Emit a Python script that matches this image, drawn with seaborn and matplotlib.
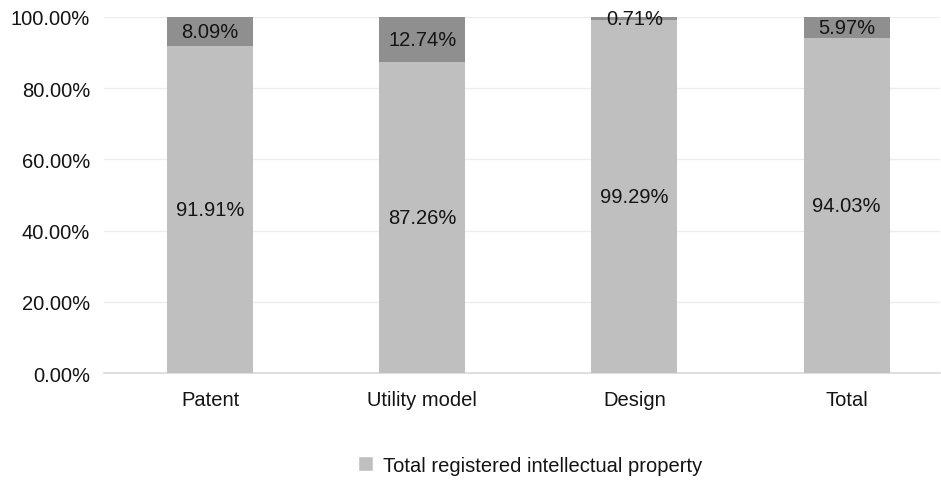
import pandas as pd
import matplotlib.pyplot as plt
import seaborn as sns
from matplotlib.patches import Patch
from matplotlib.ticker import FuncFormatter

categories = ['Patent', 'Utility model', 'Design', 'Total']
registered = [91.91, 87.26, 99.29, 94.03]
unregistered = [8.09, 12.74, 0.71, 5.97]

LIGHT = '#bfbfbf'
DARK = '#8f8f8f'
GRID = '#ededed'
TEXT = '#141414'
FS = 14.5

sns.set_style('white')
plt.rcParams['font.family'] = ['Liberation Sans', 'DejaVu Sans']

df = pd.DataFrame({'category': categories, 'registered': registered,
                   'unregistered': unregistered})
df['stack'] = df['registered'] + df['unregistered']

fig = plt.figure(figsize=(9.41, 4.81), dpi=100)
ax = fig.add_axes([104 / 941, 1 - 374 / 481, (940 - 104) / 941, (374 - 18) / 481])

# darker top part drawn as the full stack, light registered part over it
sns.barplot(data=df, x='category', y='stack', color=DARK, saturation=1,
            width=0.405, linewidth=0, ax=ax, zorder=2)
sns.barplot(data=df, x='category', y='registered', color=LIGHT, saturation=1,
            width=0.405, linewidth=0, ax=ax, zorder=3)

for i, (r, u) in enumerate(zip(registered, unregistered)):
    ax.text(i, r / 2, f'{r:.2f}%', ha='center', va='center', fontsize=FS,
            color=TEXT, zorder=5)
    ax.text(i, r + u / 2, f'{u:.2f}%', ha='center', va='center', fontsize=FS,
            color=TEXT, zorder=5)

ax.set_ylim(0, 100)
ax.set_xlim(-0.5, 3.44)
ax.set_yticks([0, 20, 40, 60, 80, 100])
ax.yaxis.set_major_formatter(FuncFormatter(lambda v, p: f'{v:.2f}%'))
ax.grid(axis='y', color=GRID, linewidth=1.0, zorder=0)
ax.set_axisbelow(True)
for s in ['left', 'right', 'top']:
    ax.spines[s].set_visible(False)
ax.spines['bottom'].set_color('#d9d9d9')
ax.spines['bottom'].set_linewidth(1.2)
ax.tick_params(axis='both', length=0, labelsize=FS, colors=TEXT)
ax.tick_params(axis='x', pad=12)
ax.tick_params(axis='y', pad=10)
ax.set_xlabel('')
ax.set_ylabel('')

fig.legend(handles=[Patch(facecolor=LIGHT, label='Total registered intellectual property')],
           loc='center', bbox_to_anchor=(530 / 941, 1 - 466 / 481), frameon=False,
           fontsize=FS, handlelength=0.75, handleheight=0.75, handletextpad=0.5,
           labelcolor=TEXT)

fig.savefig('out.png', dpi=100, facecolor='white')
